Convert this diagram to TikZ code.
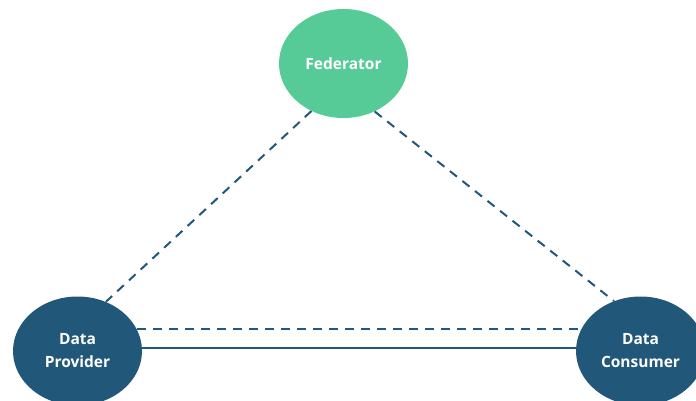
\documentclass[tikz,border=0pt]{standalone}
\usepackage{fontspec}
\setmainfont{Open Sans}
\usetikzlibrary{shapes.geometric}
\definecolor{fedgreen}{HTML}{56CB98}
\definecolor{navy}{HTML}{215779}
\begin{document}
\begin{tikzpicture}[x=1pt,y=-1pt,
  ent/.style={ellipse, minimum width=129pt, minimum height=109pt, inner sep=0pt,
    text=white, font=\bfseries\fontsize{15.5}{23}\selectfont, align=center},
  link/.style={draw=navy, line width=2pt},
  dlink/.style={link, dash pattern=on 9pt off 7pt}]
\useasboundingbox (0,0) rectangle (696,401);
\node[ent, fill=fedgreen] (fed) at (343.5,63.5) {Federator};
\node[ent, fill=navy] (prov) at (77.5,351) {Data\\Provider};
\node[ent, fill=navy] (cons) at (640.5,351) {Data\\Consumer};
\draw[dlink] (fed.236) -- (prov.60);
\draw[dlink] (fed.303) -- (cons.118);
\draw[dlink] (prov.20) -- (cons.160);
\draw[link] (prov.3) -- (cons.177);
\end{tikzpicture}
\end{document}
